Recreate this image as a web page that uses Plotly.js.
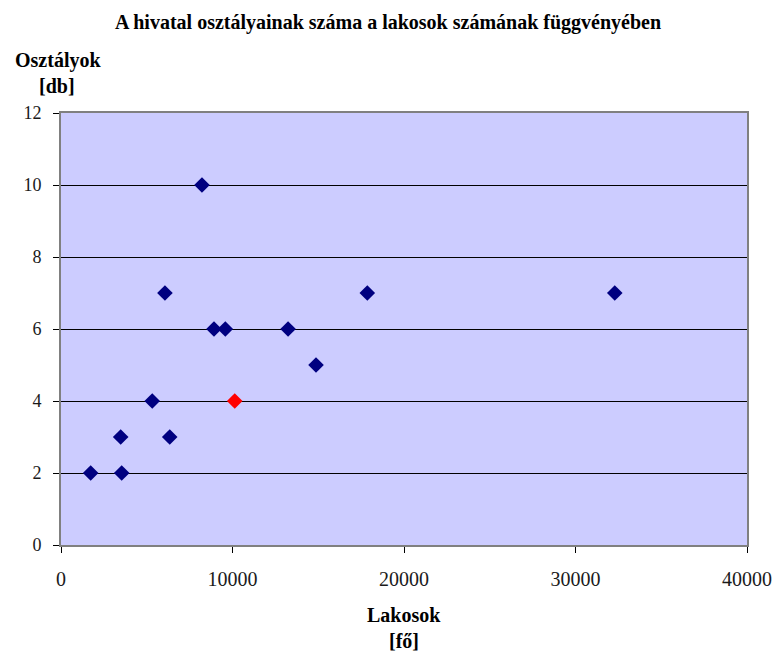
<!DOCTYPE html>
<html>
<head>
<meta charset="utf-8">
<script src="https://cdn.plot.ly/plotly-3.0.1.min.js"></script>
<style>
  html, body { margin: 0; padding: 0; background: #ffffff; }
  #chart { width: 776px; height: 652px; }
</style>
</head>
<body>
<div id="chart"></div>
<script>
// Települések: lakosok száma és a hivatal osztályainak száma
const lakosok = [1730, 3480, 3540, 5320, 6060, 6340, 8220, 8920, 9580, 13240, 14870, 17860, 32290];
const osztalyok = [2, 3, 2, 4, 7, 3, 10, 6, 6, 6, 5, 7, 7];

// Kiemelt település
const kiemeltLakosok = [10130];
const kiemeltOsztalyok = [4];

const xTicks = [0, 10000, 20000, 30000, 40000];
const yTicks = [0, 2, 4, 6, 8, 10, 12];

const serif = 'Liberation Serif';

const traces = [
  {
    x: lakosok, y: osztalyok,
    type: 'scatter', mode: 'markers',
    marker: { symbol: 'diamond', size: 12, color: '#000080' },
    hoverinfo: 'x+y'
  },
  {
    x: kiemeltLakosok, y: kiemeltOsztalyok,
    type: 'scatter', mode: 'markers',
    marker: { symbol: 'diamond', size: 12, color: '#FF0000' },
    hoverinfo: 'x+y'
  }
];

const layout = {
  width: 776, height: 652,
  margin: { l: 61, r: 29, t: 113, b: 107 },
  paper_bgcolor: '#ffffff',
  plot_bgcolor: '#CCCCFF',
  showlegend: false,
  font: { family: serif, color: '#000000', size: 18 },
  title: {
    text: '<b>A hivatal osztályainak száma a lakosok számának függvényében</b>',
    font: { family: serif, size: 20, color: '#000000' },
    x: 0.5, xanchor: 'center', y: 0.966, yanchor: 'middle'
  },
  xaxis: {
    range: [0, 40000],
    tickvals: xTicks, ticktext: xTicks.map(String),
    ticks: 'outside', ticklen: 6, tickcolor: '#000000',
    ticklabelstandoff: 9,
    tickfont: { family: serif, size: 20, color: '#1a1a1a' },
    showgrid: false, zeroline: false,
    showline: true, linecolor: '#808080', linewidth: 2, mirror: true
  },
  yaxis: {
    range: [0, 12],
    tickvals: yTicks, ticktext: yTicks.map(String),
    ticks: 'outside', ticklen: 6, tickcolor: '#000000',
    ticklabelstandoff: 8,
    tickfont: { family: serif, size: 18, color: '#1a1a1a' },
    showgrid: true, gridcolor: '#000000', gridwidth: 1,
    zeroline: false,
    showline: true, linecolor: '#808080', linewidth: 2, mirror: true
  },
  annotations: [
    { text: '<b>Osztályok</b>', xref: 'paper', yref: 'paper', x: -0.005, y: 1.122,
      xanchor: 'center', yanchor: 'middle', showarrow: false,
      font: { family: serif, size: 20, color: '#000000' } },
    { text: '<b>[db]</b>', xref: 'paper', yref: 'paper', x: -0.006, y: 1.062,
      xanchor: 'center', yanchor: 'middle', showarrow: false,
      font: { family: serif, size: 20, color: '#000000' } },
    { text: '<b>Lakosok</b>', xref: 'paper', yref: 'paper', x: 0.5, y: -0.162,
      xanchor: 'center', yanchor: 'middle', showarrow: false,
      font: { family: serif, size: 20, color: '#000000' } },
    { text: '<b>[fő]</b>', xref: 'paper', yref: 'paper', x: 0.5, y: -0.222,
      xanchor: 'center', yanchor: 'middle', showarrow: false,
      font: { family: serif, size: 20, color: '#000000' } }
  ]
};

Plotly.newPlot('chart', traces, layout, { displayModeBar: false, staticPlot: true });
</script>
</body>
</html>
